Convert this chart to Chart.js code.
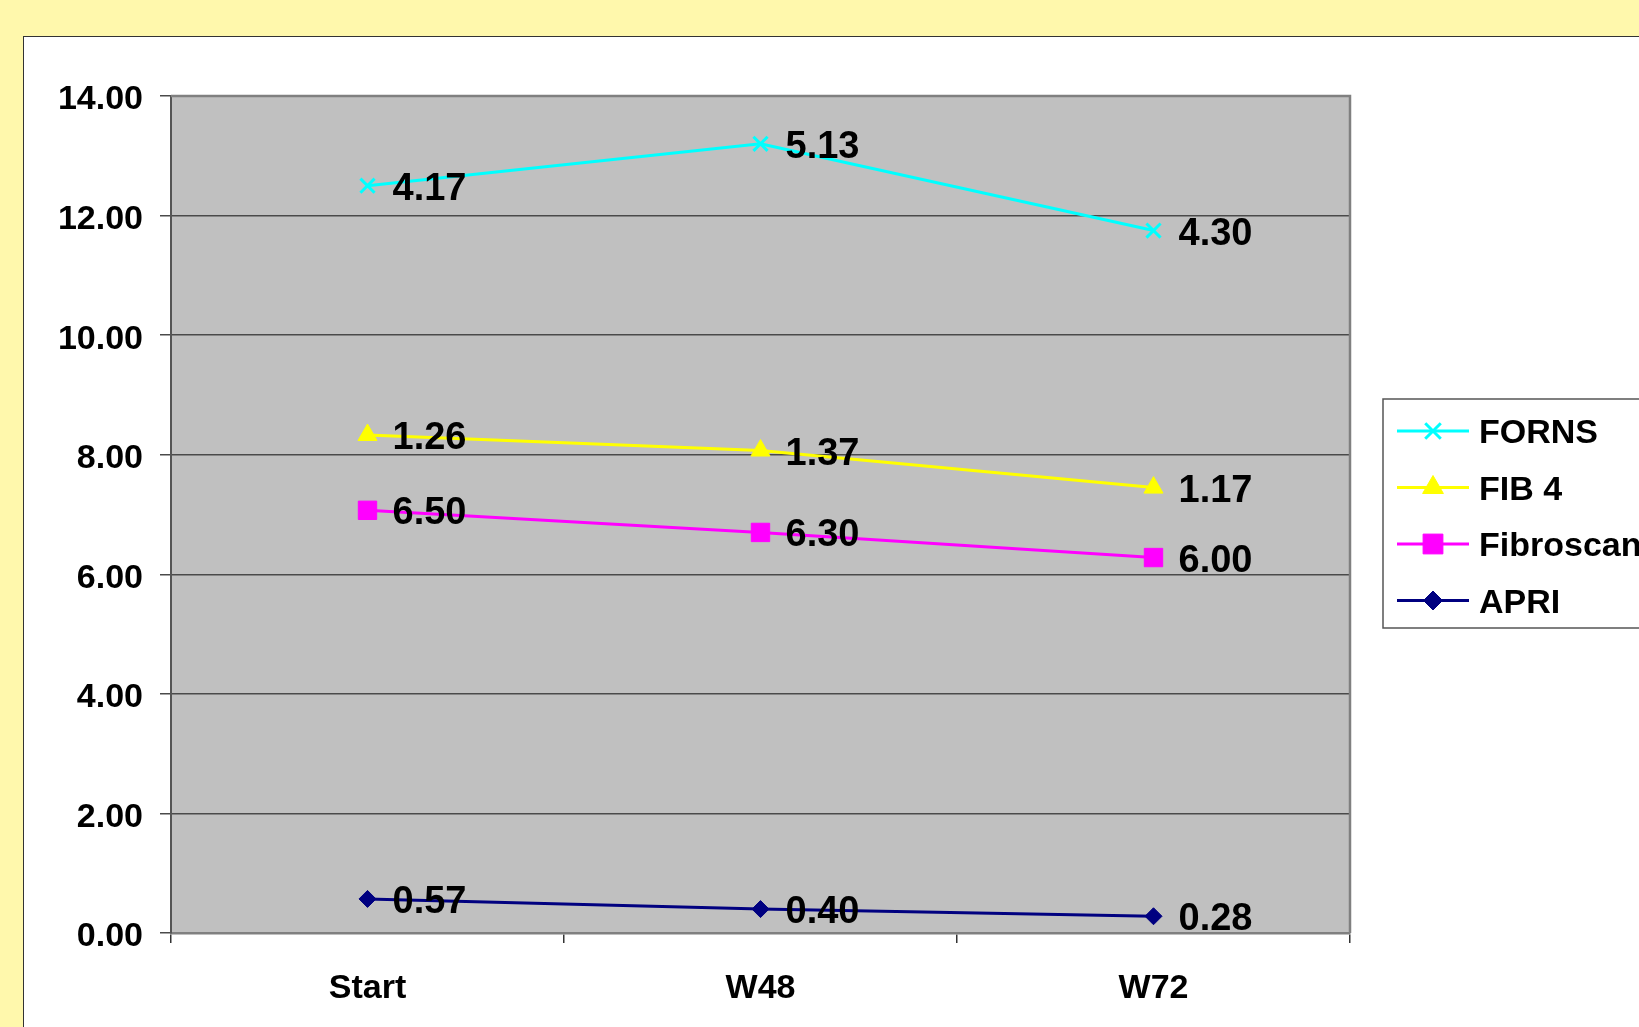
<!DOCTYPE html>
<html>
<head>
<meta charset="utf-8">
<script src="https://cdn.jsdelivr.net/npm/chart.js@4.4.0/dist/chart.umd.min.js"></script>
<style>
html, body { margin: 0; padding: 0; width: 1639px; height: 1027px; overflow: hidden; background: #FFF8AC; }
#panel { position: absolute; left: 23px; top: 36px; width: 1700px; height: 1100px; background: #fff; border: 1.5px solid #333; }
#chart { position: absolute; left: 0; top: 0; }
</style>
</head>
<body>
<div id="panel"></div>
<canvas id="chart" width="1639" height="1027"></canvas>
<script>
// du lieu (xep chong: APRI duoi cung)
const categories = ['Start', 'W48', 'W72'];
const apri = [0.57, 0.40, 0.28];
const fibroscan = [6.50, 6.30, 6.00];
const fib4 = [1.26, 1.37, 1.17];
const forns = [4.17, 5.13, 4.30];
const yTicks = [0, 2, 4, 6, 8, 10, 12, 14];

const FONT = "'Liberation Sans', Arial, sans-serif";

// nen vung ve + vien
const plotBg = {
    id: 'plotBg',
    beforeDraw(chart) {
        const a = chart.chartArea, ctx = chart.ctx;
        ctx.save();
        ctx.fillStyle = '#C0C0C0';
        ctx.fillRect(a.left, a.top, a.right - a.left, a.bottom - a.top);
        ctx.restore();
    },
    afterDraw(chart) {
        const a = chart.chartArea, ctx = chart.ctx;
        ctx.save();
        ctx.strokeStyle = '#808080';
        ctx.lineWidth = 2.5;
        ctx.beginPath();
        ctx.moveTo(a.left, a.top);
        ctx.lineTo(a.right, a.top);
        ctx.lineTo(a.right, a.bottom);
        ctx.stroke();
        ctx.restore();
    }
};

// nhan gia tri ben phai moi diem
const valueLabels = {
    id: 'valueLabels',
    afterDatasetsDraw(chart) {
        const ctx = chart.ctx;
        ctx.save();
        ctx.font = 'bold 38px ' + FONT;
        ctx.fillStyle = '#000';
        ctx.textAlign = 'left';
        ctx.textBaseline = 'alphabetic';
        chart.data.datasets.forEach((ds, i) => {
            chart.getDatasetMeta(i).data.forEach((pt, j) => {
                ctx.fillText(ds.data[j].toFixed(2), pt.x + 25, pt.y + 14);
            });
        });
        ctx.restore();
    }
};

// chu giai co khung
const boxLegend = {
    id: 'boxLegend',
    afterDraw(chart) {
        const ctx = chart.ctx;
        const left = 1383, top = 399, height = 229;
        ctx.save();
        ctx.fillStyle = '#fff';
        ctx.fillRect(left, top, 400, height);
        ctx.strokeStyle = '#555';
        ctx.lineWidth = 1.5;
        ctx.strokeRect(left, top, 400, height);
        const items = chart.data.datasets.slice().reverse();
        items.forEach((ds, k) => {
            const y = 431 + k * 56.5;
            ctx.strokeStyle = ds.borderColor;
            ctx.fillStyle = ds.borderColor;
            ctx.lineWidth = 3;
            ctx.beginPath();
            ctx.moveTo(1397, y);
            ctx.lineTo(1469, y);
            ctx.stroke();
            ctx.lineWidth = ds.pointBorderWidth;
            Chart.helpers.drawPoint(ctx, {
                pointStyle: ds.pointStyle,
                radius: ds.pointRadius + 1,
                borderWidth: ds.pointBorderWidth
            }, 1433, y);
            ctx.fillStyle = '#000';
            ctx.font = 'bold 34px ' + FONT;
            ctx.textBaseline = 'alphabetic';
            ctx.fillText(ds.label, 1479, y + 12);
        });
        ctx.restore();
    }
};

function series(label, data, color, style, r) {
    return {
        label: label,
        data: data,
        borderColor: color,
        backgroundColor: color,
        pointBackgroundColor: color,
        pointBorderColor: color,
        borderWidth: 3,
        pointStyle: style,
        pointRadius: r,
        pointBorderWidth: style === 'crossRot' ? 3 : 1,
        tension: 0,
        fill: false
    };
}

new Chart(document.getElementById('chart').getContext('2d'), {
    type: 'line',
    data: {
        labels: categories,
        datasets: [
            series('APRI', apri, '#000080', 'rectRot', 8.5),
            series('Fibroscan', fibroscan, '#FF00FF', 'rect', 13),
            series('FIB 4', fib4, '#FFFF00', 'triangle', 11),
            series('FORNS', forns, '#00FFFF', 'crossRot', 10)
        ]
    },
    options: {
        responsive: false,
        animation: false,
        layout: { padding: { top: 96, left: 0, right: 289, bottom: 0 } },
        plugins: {
            legend: { display: false },
            tooltip: { enabled: false }
        },
        scales: {
            x: {
                offset: true,
                grid: { offset: true, drawOnChartArea: false, drawTicks: true, tickLength: 10, color: '#333', lineWidth: 1.5 },
                border: { color: '#808080', width: 2.5 },
                ticks: { color: '#000', font: { family: FONT, size: 34, weight: 'bold' }, padding: 25 },
                afterFit(scale) { scale.height = 94; }
            },
            y: {
                stacked: true,
                min: 0,
                max: 14,
                afterBuildTicks(scale) { scale.ticks = yTicks.map(v => ({ value: v })); },
                grid: { color: '#4a4a4a', lineWidth: 1.5, tickLength: 11 },
                border: { color: '#555', width: 2 },
                ticks: {
                    color: '#000',
                    padding: 17,
                    labelOffset: 4,
                    font: { family: FONT, size: 34, weight: 'bold' },
                    callback: v => Number(v).toFixed(2)
                },
                afterFit(scale) { scale.width = 171; }
            }
        }
    },
    plugins: [plotBg, valueLabels, boxLegend]
});
</script>
</body>
</html>
